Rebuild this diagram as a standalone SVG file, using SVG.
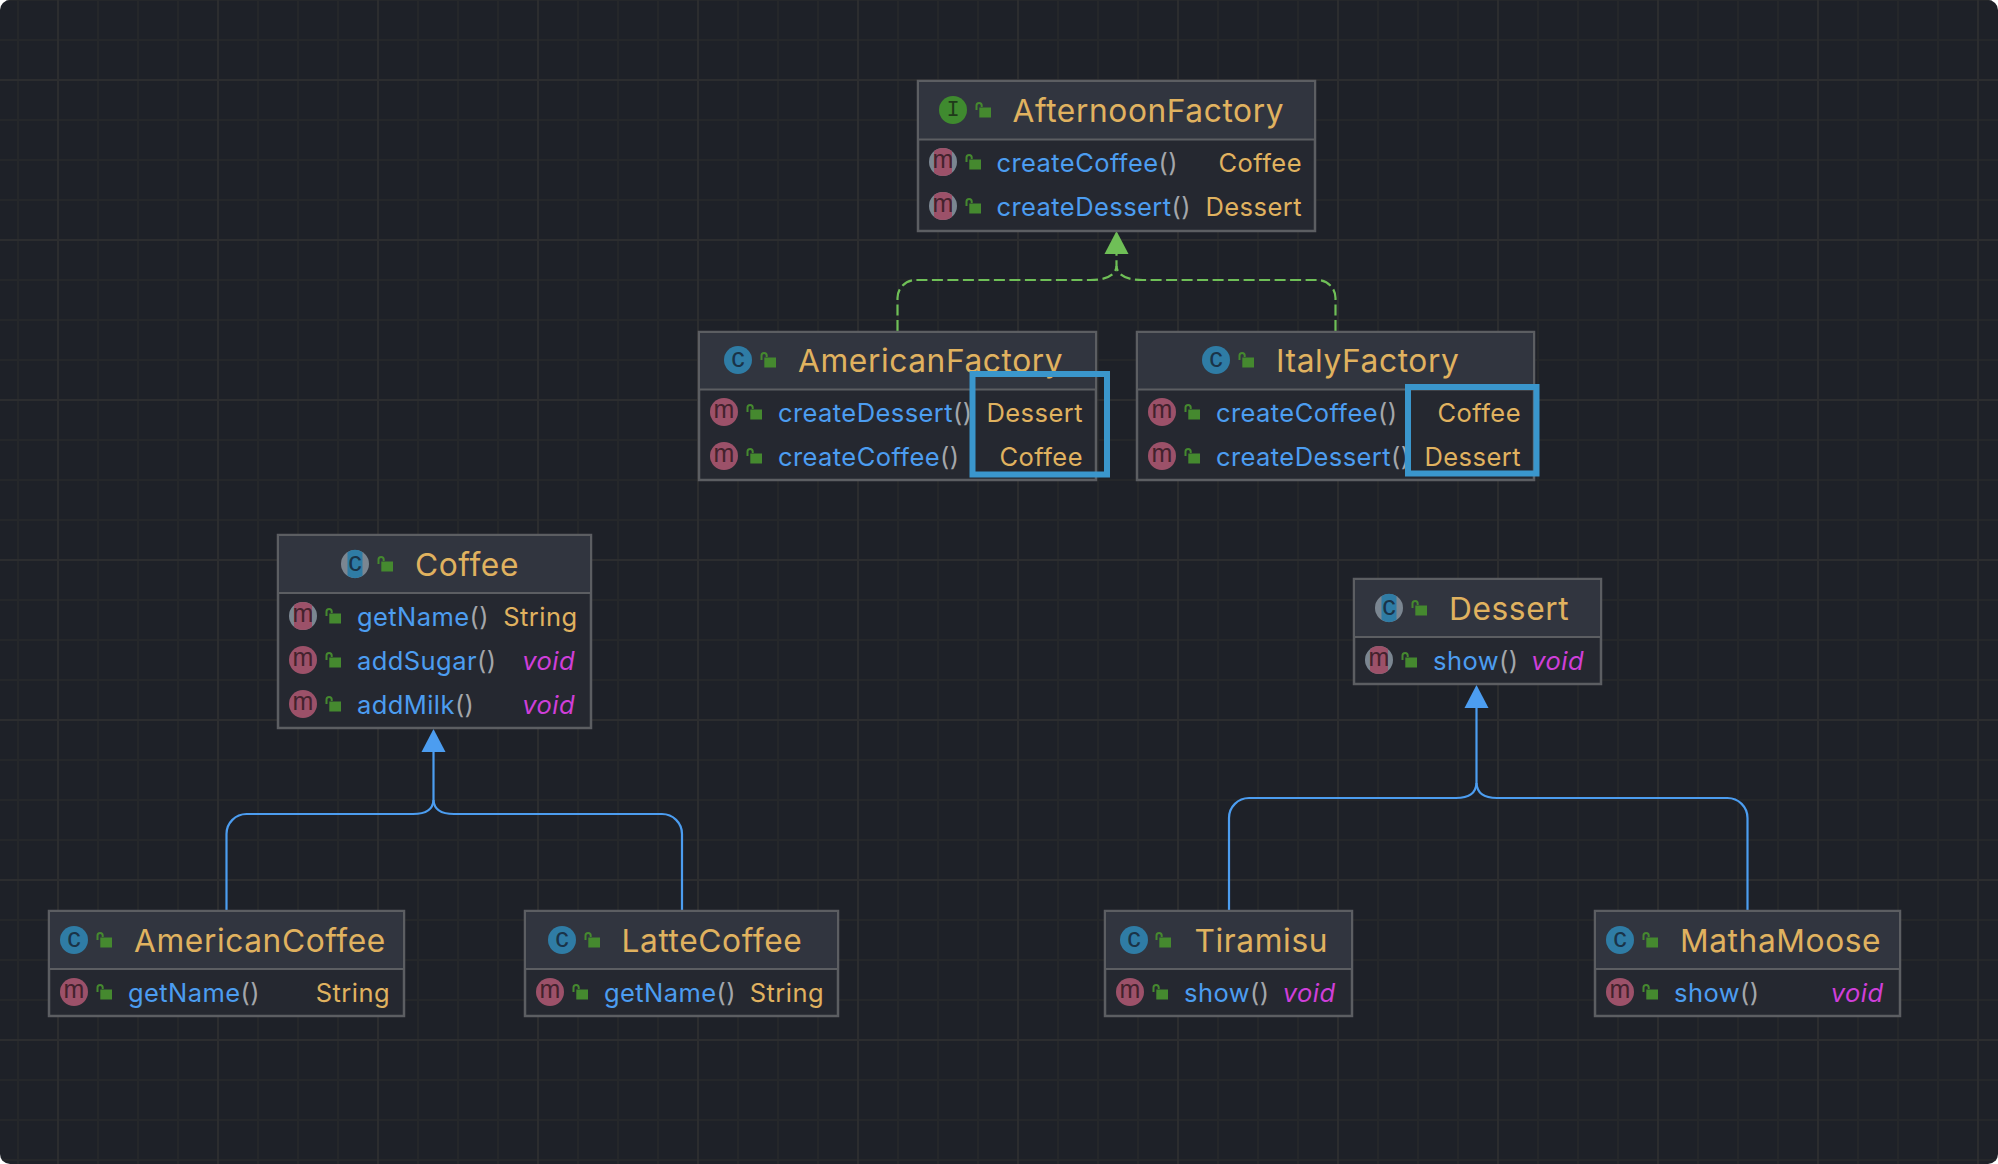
<svg xmlns="http://www.w3.org/2000/svg" width="1998" height="1164" viewBox="0 0 1998 1164">
<style>
.box{fill:#252830;stroke:#5c5e62;stroke-width:2.5}
.head{fill:#31353f}
.div{stroke:#5c5e62;stroke-width:2;fill:none}
text{font-family:Inter,"Noto Sans",sans-serif}
.title{font-size:31.7px;fill:#e0b25f;letter-spacing:.6px}
.m{font-size:25.5px;fill:#4c9df0;letter-spacing:.42px}
.p{fill:#a3a6aa}
.r{font-size:25.5px;fill:#e0b25f;text-anchor:end;letter-spacing:.45px}
.v{font-size:25.5px;fill:#cf3fd9;font-style:italic;text-anchor:end;letter-spacing:.45px}
.g{font-family:"Liberation Sans",sans-serif;text-anchor:middle}
.gm{fill:#43222d;font-size:25px}
.gc{fill:#1a3348;font-size:27px}
.gi{fill:#1f3a1a;font-family:"Liberation Mono",monospace;font-size:22px}
.hl{fill:none;stroke:#3a96cc;stroke-width:6}
.blue{fill:none;stroke:#4c9df0;stroke-width:2.2}
.green{fill:none;stroke:#6fbf57;stroke-width:2.2}
.dash{stroke-dasharray:11 4.5}
</style>
<defs>
<pattern id="grid" patternUnits="userSpaceOnUse" x="-2" y="-20" width="160" height="160">
<path d="M0 20H160M0 60H160M0 140H160M20 0V160M100 0V160M140 0V160" stroke="#25272a" stroke-width="2" fill="none"/>
<path d="M0 100H160M60 0V160" stroke="#2c2d2f" stroke-width="2" fill="none"/>
</pattern>
<g id="lock"><path d="M1.500 8V3.500a2.600 2.600 0 0 1 5.200 0V5" fill="none" stroke="#45892f" stroke-width="2"/><rect x="4.300" y="5.500" width="11.700" height="10" fill="#45892f"/></g>
<circle id="cm" r="14" fill="#9c5169"/>
<circle id="cc" r="14" fill="#2f7ca5"/>
<g id="am"><circle r="14" fill="#7b8691"/><path d="M-9 -10.700A14 14 0 0 1 9 -10.700V10.700A14 14 0 0 1 -9 10.700Z" fill="#9c5169"/></g>
<g id="ac"><circle r="14" fill="#7b8691"/><path d="M-7.500 -11.800A14 14 0 0 1 7.500 -11.800V11.800A14 14 0 0 1 -7.500 11.800Z" fill="#2f7ca5"/></g>
</defs>
<rect width="1998" height="1164" fill="#ffffff"/>
<rect width="1998" height="1164" rx="10" fill="#1e2128"/>
<rect width="1998" height="1164" rx="10" fill="url(#grid)"/>

<g id="connectors">
<path class="green dash" d="M897.500 331V298a18 18 0 0 1 18-18H1090C1105 280 1116 276 1116.500 266"/>
<path class="green dash" d="M1335.500 331V298a18 18 0 0 0-18-18H1143C1128 280 1117 276 1116.500 266V250"/>
<polygon points="1116.500,231 1128.500,254 1104.500,254" fill="#6fbf57"/>
<path class="blue" d="M226.500 910V834a20 20 0 0 1 20-20H413C425 814 433 810 433.500 800"/>
<path class="blue" d="M682 910V834a20 20 0 0 0-20-20H454C442 814 434 810 433.500 800V748"/>
<polygon points="433.500,729 445.500,752 421.500,752" fill="#4c9df0"/>
<path class="blue" d="M1229 910V818a20 20 0 0 1 20-20H1456C1468 798 1476 794 1476.500 783"/>
<path class="blue" d="M1747.500 910V818a20 20 0 0 0-20-20H1497C1485 798 1477 794 1476.500 783V704"/>
<polygon points="1476.500,685 1488.500,708 1464.500,708" fill="#4c9df0"/>
</g>

<g id="AfternoonFactory">
<rect class="box" x="918" y="81" width="397" height="150"/><rect class="head" x="919" y="82" width="395" height="57"/><path class="div" d="M918 139.500H1315"/>
<circle cx="953" cy="110" r="14" fill="#3f8a2f"/><text class="g gi" x="953" y="116">I</text><use href="#lock" x="975" y="102"/>
<text class="title" x="1012.500" y="122">AfternoonFactory</text>
<use href="#am" x="943" y="162"/><text class="g gm" x="943" y="168">m</text><use href="#lock" x="965" y="154"/>
<text class="m" x="996.500" y="172">createCoffee<tspan class="p">()</tspan></text><text class="r" x="1302" y="172">Coffee</text>
<use href="#am" x="943" y="206"/><text class="g gm" x="943" y="212">m</text><use href="#lock" x="965" y="198"/>
<text class="m" x="996.500" y="216">createDessert<tspan class="p">()</tspan></text><text class="r" x="1302" y="216">Dessert</text>
</g>

<g id="AmericanFactory">
<rect class="box" x="699" y="332" width="397" height="148"/><rect class="head" x="700" y="333" width="395" height="56"/><path class="div" d="M699 389.500H1096"/>
<use href="#cc" x="738" y="360"/><text class="g gc" x="738" y="367">c</text><use href="#lock" x="760" y="352"/>
<text class="title" x="798" y="372">AmericanFactory</text>
<use href="#cm" x="724" y="412"/><text class="g gm" x="724" y="418">m</text><use href="#lock" x="746" y="404"/>
<text class="m" x="778" y="422">createDessert<tspan class="p">()</tspan></text><text class="r" x="1083" y="422">Dessert</text>
<use href="#cm" x="724" y="456"/><text class="g gm" x="724" y="462">m</text><use href="#lock" x="746" y="448"/>
<text class="m" x="778" y="466">createCoffee<tspan class="p">()</tspan></text><text class="r" x="1083" y="466">Coffee</text>
</g>

<g id="ItalyFactory">
<rect class="box" x="1137" y="332" width="397" height="148"/><rect class="head" x="1138" y="333" width="395" height="56"/><path class="div" d="M1137 389.500H1534"/>
<use href="#cc" x="1216" y="360"/><text class="g gc" x="1216" y="367">c</text><use href="#lock" x="1238" y="352"/>
<text class="title" x="1276" y="372">ItalyFactory</text>
<use href="#cm" x="1162" y="412"/><text class="g gm" x="1162" y="418">m</text><use href="#lock" x="1184" y="404"/>
<text class="m" x="1216" y="422">createCoffee<tspan class="p">()</tspan></text><text class="r" x="1521" y="422">Coffee</text>
<use href="#cm" x="1162" y="456"/><text class="g gm" x="1162" y="462">m</text><use href="#lock" x="1184" y="448"/>
<text class="m" x="1216" y="466">createDessert<tspan class="p">()</tspan></text><text class="r" x="1521" y="466">Dessert</text>
</g>

<g id="Coffee">
<rect class="box" x="278" y="535" width="313" height="193"/><rect class="head" x="279" y="536" width="311" height="57"/><path class="div" d="M278 593H591"/>
<use href="#ac" x="355" y="564"/><text class="g gc" x="355" y="571">c</text><use href="#lock" x="377" y="556"/>
<text class="title" x="415" y="575.500">Coffee</text>
<use href="#am" x="303" y="616"/><text class="g gm" x="303" y="622">m</text><use href="#lock" x="325" y="608"/>
<text class="m" x="357" y="626">getName<tspan class="p">()</tspan></text><text class="r" x="577.500" y="626">String</text>
<use href="#cm" x="303" y="660"/><text class="g gm" x="303" y="666">m</text><use href="#lock" x="325" y="652"/>
<text class="m" x="357" y="670">addSugar<tspan class="p">()</tspan></text><text class="v" x="575" y="670">void</text>
<use href="#cm" x="303" y="704"/><text class="g gm" x="303" y="710">m</text><use href="#lock" x="325" y="696"/>
<text class="m" x="357" y="714">addMilk<tspan class="p">()</tspan></text><text class="v" x="575" y="714">void</text>
</g>

<g id="Dessert">
<rect class="box" x="1354" y="579" width="247" height="105"/><rect class="head" x="1355" y="580" width="245" height="57"/><path class="div" d="M1354 637H1601"/>
<use href="#ac" x="1389" y="608"/><text class="g gc" x="1389" y="615">c</text><use href="#lock" x="1411" y="600"/>
<text class="title" x="1449" y="619.500">Dessert</text>
<use href="#am" x="1379" y="660"/><text class="g gm" x="1379" y="666">m</text><use href="#lock" x="1401" y="652"/>
<text class="m" x="1433" y="670">show<tspan class="p">()</tspan></text><text class="v" x="1584" y="670">void</text>
</g>

<g id="AmericanCoffee">
<rect class="box" x="49" y="911" width="355" height="105"/><rect class="head" x="50" y="912" width="353" height="57"/><path class="div" d="M49 969H404"/>
<use href="#cc" x="74" y="940"/><text class="g gc" x="74" y="947">c</text><use href="#lock" x="96" y="932"/>
<text class="title" x="134" y="952">AmericanCoffee</text>
<use href="#cm" x="74" y="992"/><text class="g gm" x="74" y="998">m</text><use href="#lock" x="96" y="984"/>
<text class="m" x="128" y="1002">getName<tspan class="p">()</tspan></text><text class="r" x="390" y="1002">String</text>
</g>

<g id="LatteCoffee">
<rect class="box" x="525" y="911" width="313" height="105"/><rect class="head" x="526" y="912" width="311" height="57"/><path class="div" d="M525 969H838"/>
<use href="#cc" x="562" y="940"/><text class="g gc" x="562" y="947">c</text><use href="#lock" x="584" y="932"/>
<text class="title" x="621.500" y="952">LatteCoffee</text>
<use href="#cm" x="550" y="992"/><text class="g gm" x="550" y="998">m</text><use href="#lock" x="572" y="984"/>
<text class="m" x="604" y="1002">getName<tspan class="p">()</tspan></text><text class="r" x="824" y="1002">String</text>
</g>

<g id="Tiramisu">
<rect class="box" x="1105" y="911" width="247" height="105"/><rect class="head" x="1106" y="912" width="245" height="57"/><path class="div" d="M1105 969H1352"/>
<use href="#cc" x="1134" y="940"/><text class="g gc" x="1134" y="947">c</text><use href="#lock" x="1155" y="932"/>
<text class="title" x="1194.500" y="952">Tiramisu</text>
<use href="#cm" x="1130" y="992"/><text class="g gm" x="1130" y="998">m</text><use href="#lock" x="1152" y="984"/>
<text class="m" x="1184" y="1002">show<tspan class="p">()</tspan></text><text class="v" x="1335.500" y="1002">void</text>
</g>

<g id="MathaMoose">
<rect class="box" x="1595" y="911" width="305" height="105"/><rect class="head" x="1596" y="912" width="303" height="57"/><path class="div" d="M1595 969H1900"/>
<use href="#cc" x="1620" y="940"/><text class="g gc" x="1620" y="947">c</text><use href="#lock" x="1642" y="932"/>
<text class="title" x="1680" y="952">MathaMoose</text>
<use href="#cm" x="1620" y="992"/><text class="g gm" x="1620" y="998">m</text><use href="#lock" x="1642" y="984"/>
<text class="m" x="1674" y="1002">show<tspan class="p">()</tspan></text><text class="v" x="1883.500" y="1002">void</text>
</g>

<g id="highlights">
<rect class="hl" x="972.500" y="374" width="134.500" height="100.500"/>
<rect class="hl" x="1408" y="387" width="128.500" height="86.500"/>
</g>
</svg>
